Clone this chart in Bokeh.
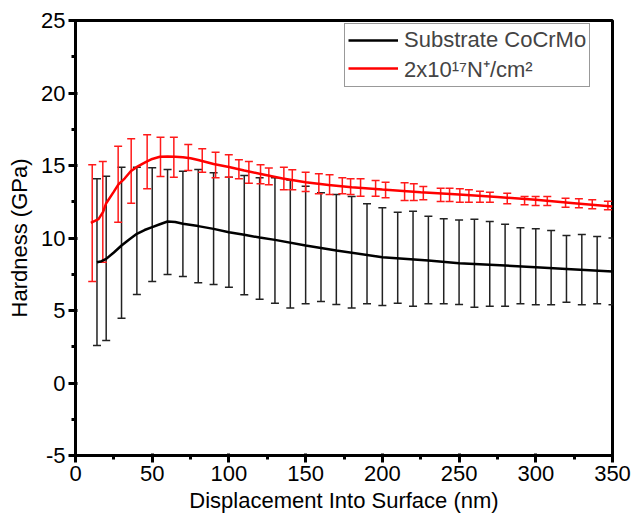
from bokeh.plotting import figure
from bokeh.models import (Legend, LegendItem, SingleIntervalTicker, Range1d,
                          NumeralTickFormatter)
from bokeh.embed import file_html
from bokeh.resources import INLINE

# ---- data ----
sub_x = [14, 17, 20, 25, 30, 35, 40, 45, 50, 55, 60, 65, 70, 80, 90, 100, 110, 120,
         130, 150, 170, 200, 230, 250, 280, 300, 320, 350]
sub_y = [8.33, 8.4, 8.56, 9.0, 9.48, 9.9, 10.29, 10.55, 10.75, 10.95, 11.14, 11.1,
         10.98, 10.82, 10.63, 10.4, 10.22, 10.03, 9.87, 9.48, 9.14, 8.68, 8.45, 8.26,
         8.1, 7.99, 7.87, 7.69]

sub_err_x = [14, 20, 30, 40, 50, 60, 70, 80, 90, 100, 110, 120, 130, 140, 150, 160,
             170, 180, 190, 200, 210, 220, 230, 240, 250, 260, 270, 280, 290, 300,
             310, 320, 330, 340, 350]
sub_err_hi = [14.08, 14.26, 14.88, 14.88, 14.84, 14.72, 14.6, 14.72, 14.5, 14.19,
              14.31, 14.15, 14.15, 14.0, 13.57, 13.12, 13.0, 12.86, 12.36, 12.08,
              11.78, 11.85, 11.5, 11.32, 11.25, 11.3, 11.14, 10.95, 10.7, 10.63,
              10.52, 10.17, 10.24, 10.1, 10.0]
sub_err_lo = [2.59, 2.93, 4.47, 6.1, 7.0, 7.48, 7.34, 6.91, 6.79, 6.6, 6.08, 5.78,
              5.5, 5.18, 5.46, 5.62, 5.41, 5.18, 5.46, 5.34, 5.5, 5.3, 5.46, 5.46,
              5.41, 5.23, 5.3, 5.3, 5.46, 5.39, 5.39, 5.57, 5.39, 5.46, 5.4]

imp_x = [10, 15, 18, 20, 25, 28, 32, 36, 40, 46, 50, 55, 60, 65, 70, 75, 80, 90,
         100, 110, 120, 135, 150, 165, 180, 200, 225, 250, 275, 300, 325, 350]
imp_y = [11.05, 11.3, 11.8, 12.4, 13.2, 13.7, 14.1, 14.6, 14.9, 15.25, 15.45, 15.6,
         15.62, 15.6, 15.57, 15.5, 15.38, 15.1, 14.9, 14.66, 14.43, 14.1, 13.85,
         13.65, 13.5, 13.34, 13.15, 13.0, 12.82, 12.63, 12.4, 12.17]

imp_err_x = [10.9, 17.8, 27.8, 36.3, 46.7, 55.4, 64.1, 73.5, 82.6, 91.3, 99.9, 106.5,
             113, 120.6, 126, 135.8, 141.3, 150, 158.6, 165.6, 173.9, 179.3, 185.8,
             195.6, 202.1, 214.5, 220.5, 226.7, 238, 243.8, 250.5, 256.4, 263.6,
             270.1, 281.4, 292.7, 299.9, 307.5, 319.4, 328.1, 336.8, 347]
imp_err_hi = [15.05, 15.28, 16.33, 16.84, 17.12, 16.95, 16.95, 16.45, 16.15, 15.92,
              15.74, 15.39, 15.28, 15.05, 14.82, 14.88, 14.7, 14.54, 14.43, 14.36,
              14.15, 14.08, 14.08, 13.97, 13.85, 13.81, 13.74, 13.55, 13.43, 13.43,
              13.39, 13.32, 13.23, 13.16, 13.09, 12.86, 12.86, 12.86, 12.75, 12.7,
              12.63, 12.54]
imp_err_lo = [7.0, 8.33, 11.09, 12.4, 13.39, 14.24, 14.19, 14.66, 14.54, 14.15,
              14.19, 14.08, 13.78, 13.74, 13.67, 13.33, 13.33, 13.21, 13.05, 13.0,
              13.05, 13.0, 12.88, 12.88, 12.77, 12.59, 12.59, 12.63, 12.52, 12.52,
              12.47, 12.47, 12.47, 12.47, 12.36, 12.29, 12.24, 12.24, 12.12, 12.08,
              12.01, 11.94]

x_label = "Displacement Into Surface (nm)"
y_label = "Hardness (GPa)"
name_sub = "Substrate CoCrMo"
name_imp = "2x10\u00b9\u2077N\u207a/cm\u00b2"

FS = "22px"
BLK_ERR = "#222222"
RED_ERR = "#ff1a1a"

p = figure(frame_width=537, frame_height=435, output_backend="svg",
           toolbar_location=None, x_range=Range1d(0, 350), y_range=Range1d(-5, 25),
           min_border_left=75, min_border_right=19, min_border_top=20,
           min_border_bottom=70)
p.xgrid.grid_line_color = None
p.ygrid.grid_line_color = None
p.outline_line_color = "black"
p.outline_line_width = 3

# error bars as plain glyphs: vertical stem plus horizontal caps
p.segment(x0=sub_err_x, y0=sub_err_lo, x1=sub_err_x, y1=sub_err_hi,
          line_color=BLK_ERR, line_width=1.5)
p.dash(x=sub_err_x, y=sub_err_hi, size=8, line_color=BLK_ERR, line_width=1.5)
p.dash(x=sub_err_x, y=sub_err_lo, size=8, line_color=BLK_ERR, line_width=1.5)
p.segment(x0=imp_err_x, y0=imp_err_lo, x1=imp_err_x, y1=imp_err_hi,
          line_color=RED_ERR, line_width=1.5)
p.dash(x=imp_err_x, y=imp_err_hi, size=8, line_color=RED_ERR, line_width=1.5)
p.dash(x=imp_err_x, y=imp_err_lo, size=8, line_color=RED_ERR, line_width=1.5)

r1 = p.line(sub_x, sub_y, line_color="black", line_width=2.5)
r2 = p.line(imp_x, imp_y, line_color="#ff0000", line_width=2.5)

for ax in (p.xaxis[0], p.yaxis[0]):
    ax.axis_line_color = "black"
    ax.axis_line_width = 3
    ax.major_tick_line_color = "black"
    ax.minor_tick_line_color = "black"
    ax.major_tick_line_width = 3
    ax.minor_tick_line_width = 3
    ax.major_tick_out = 7
    ax.minor_tick_out = 4
    ax.major_label_text_font_size = FS
    ax.major_label_text_color = "black"
    ax.axis_label_text_font_size = FS
    ax.axis_label_text_font_style = "normal"
    ax.axis_label_text_color = "black"

p.xaxis[0].ticker = SingleIntervalTicker(interval=50, num_minor_ticks=2)
p.yaxis[0].ticker = SingleIntervalTicker(interval=5, num_minor_ticks=2)
p.yaxis[0].formatter = NumeralTickFormatter(format="0")
p.xaxis[0].axis_label = x_label
p.yaxis[0].axis_label = y_label
p.xaxis[0].major_label_standoff = 3
p.yaxis[0].major_label_standoff = 3
p.xaxis[0].axis_label_standoff = 4
p.yaxis[0].axis_label_standoff = 6

legend = Legend(items=[LegendItem(label=name_sub, renderers=[r1]),
                       LegendItem(label=name_imp, renderers=[r2])],
                location=(269, 368), orientation="vertical")
legend.label_text_font_size = FS
legend.glyph_width = 50
legend.glyph_height = 24
legend.label_height = 24
legend.label_standoff = 6
legend.padding = 3
legend.spacing = 0
legend.margin = 0
legend.border_line_color = "#333333"
legend.border_line_width = 1
legend.background_fill_alpha = 1.0
p.add_layout(legend, "center")

open("out.html", "w").write(file_html(p, INLINE))
